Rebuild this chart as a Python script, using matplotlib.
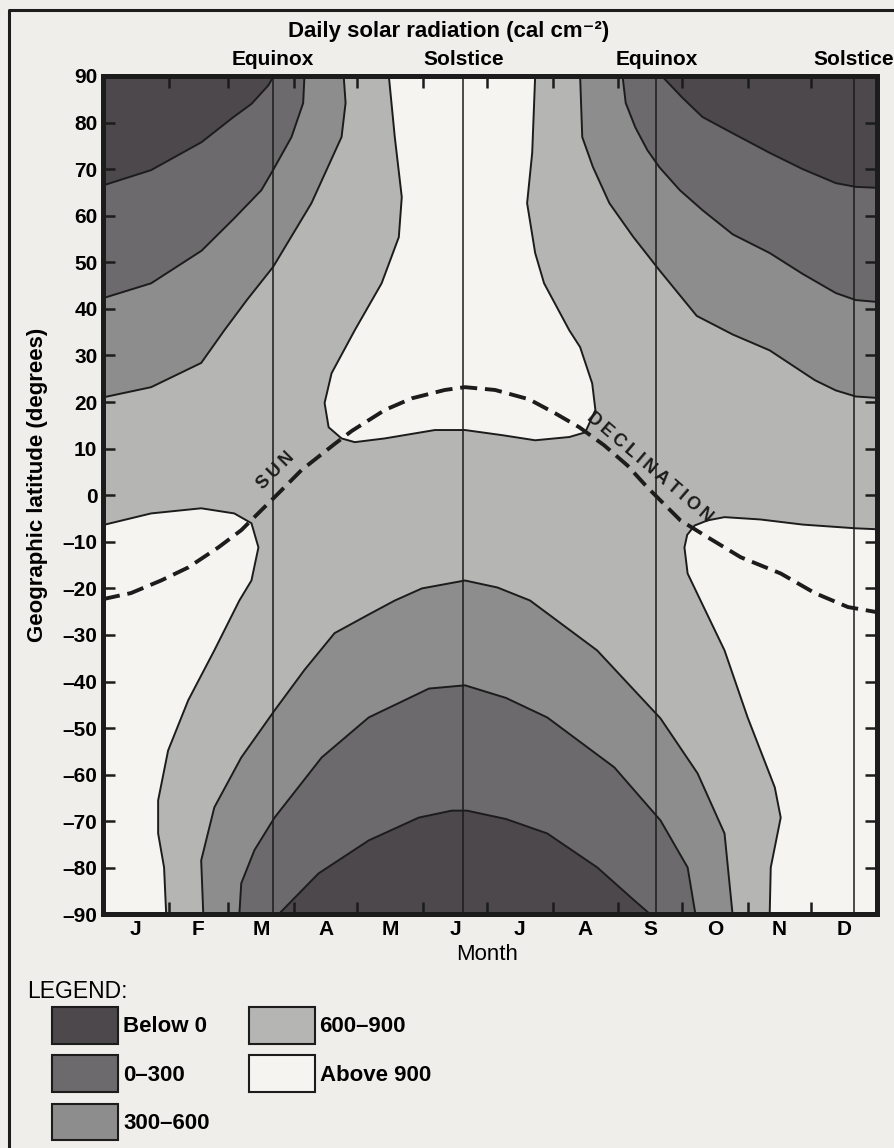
import matplotlib
matplotlib.use("Agg")
import matplotlib.pyplot as plt
import matplotlib.transforms as mtransforms
from matplotlib.patches import Patch
from matplotlib.lines import Line2D

plt.rcParams['font.family'] = ['Liberation Sans', 'DejaVu Sans']

# Band colours (scanned greys)
page_col = '#efeeea'
col_below0 = '#4c484c'
col_0_300 = '#6d6a6d'
col_300_600 = '#8e8d8e'
col_600_900 = '#b5b5b3'
col_above900 = '#f5f4f0'
ink = '#1c1c1c'

# Isolines: day of year vs latitude (degrees)
# 0 cal line, northern winter (left / right edges)
nw_below0_day = [0, 22.7, 46.5, 61, 70, 78, 80.5]
nw_below0_lat = [66.5, 69.8, 75.8, 81, 84, 88, 90]
ne_below0_day = [263.5, 273.3, 282.7, 297, 314.4, 330, 345.6, 355, 365]
ne_below0_lat = [90, 85.3, 81.2, 77.7, 73.5, 70, 67, 66.2, 66]

# 300 cal line
nw_300_day = [0, 22.7, 46.5, 62, 74.7, 80.2, 88.9, 94.4, 95]
nw_300_lat = [42.3, 45.5, 52.5, 59.5, 65.5, 69.8, 76.9, 84.2, 90]
ne_300_day = [245, 246.5, 251, 256.7, 262.4, 272, 282.7, 297, 314.4, 330, 345.6, 355, 365]
ne_300_lat = [90, 84.2, 79, 74.1, 70.4, 65.5, 61.2, 56, 52, 47.5, 43.4, 41.9, 41.5]

# 600 cal line
nw_600_day = [0, 22.7, 46.3, 57.2, 68, 80.2, 98.3, 112.5, 114.4, 113.5]
nw_600_lat = [21, 23.2, 28.4, 35.4, 42, 49, 62.7, 76.9, 84.2, 90]
ne_600_day = [225, 226, 231, 238.8, 250, 262.4, 280, 297, 314.4, 335.7, 345.6, 355, 365]
ne_600_lat = [90, 76.9, 70.5, 62.7, 55.5, 48.3, 38.5, 34.5, 31.1, 24.7, 22.5, 21.2, 20.9]

# 900 cal line, northern summer lobe (closed along the top)
n_900_day = [134.8, 137.6, 140.9, 139.5, 131.4, 118.7, 107.8, 104.5, 106.4, 112.5,
             118.7, 132.9, 156.5, 170.7, 188.2, 203.8, 219.9, 227.4, 232.2, 230.7,
             225, 219.9, 208, 203.8, 200, 202.4, 203.8]
n_900_lat = [90, 76.9, 64, 55.4, 45.5, 35.4, 26.2, 19.8, 14.6, 12.2,
             11.4, 12.2, 14, 14, 12.9, 11.8, 12.5, 13.5, 18.3, 24,
             31.8, 35.4, 45.5, 52, 62.7, 73.5, 90]

# 900 cal line, southern summer lobes
sw_900_day = [0, 22.7, 46.3, 61.9, 70, 73.3, 70, 64.3, 52.5, 40.2, 30.7, 26, 26, 28.8, 29.8]
sw_900_lat = [-6.4, -3.9, -2.8, -3.9, -6, -11.2, -18.3, -22.6, -33.3, -44, -54.8, -65.5, -72.6, -79.9, -90]
se_900_day = [365, 355, 330, 310, 293.1, 285.1, 279, 275.5, 274.2, 275.7, 281.8, 293.1, 304, 316.8, 319.6, 314.9, 314.4]
se_900_lat = [-7.3, -7.1, -6.3, -5.2, -4.7, -5.4, -6.5, -8.5, -11.2, -16.8, -22.6, -33.3, -47.7, -62.7, -69.2, -79.9, -90]

# southern winter lines
s_600_day = [47.3, 46.3, 52.5, 65.2, 80.9, 95, 109.2, 125.3, 137.6, 150.4, 170.7, 186, 201.4, 233, 262.9, 280.4, 293.1, 296.9]
s_600_lat = [-90, -78.4, -67, -56.3, -46.2, -37.5, -29.6, -25.6, -22.6, -20, -18.3, -19.8, -22.6, -33.3, -47.9, -59.7, -72.6, -90]
s_300_day = [64.3, 65.2, 71.4, 80.9, 103.1, 125.3, 153.7, 170.7, 190, 209.5, 241.1, 262.9, 275.7, 279.4]
s_300_lat = [-90, -83.3, -76.2, -69.2, -56.3, -47.7, -41.5, -40.8, -43.5, -47.7, -58.4, -69.8, -79.9, -90]
s_below0_day = [82.7, 101.6, 125.3, 148.9, 164.5, 171.6, 190, 209.5, 233.1, 250.6, 258.2]
s_below0_lat = [-90, -81.2, -74.1, -69.2, -67.7, -67.7, -69.5, -72.6, -79.9, -87, -90]

# Sun declination (dashed curve)
decl_day = [0, 13.2, 27.4, 40.2, 54.4, 65.2, 74.7, 82.7, 93.6, 109.2, 117.3, 132.9, 145.6, 161.2,
            170.7, 184.9, 200.9, 213.2, 224.6, 236.4, 247.3, 256.7, 272.3, 285.1, 300.7, 319.6,
            335.7, 351.3, 365]
decl_lat = [-22.3, -21.0, -18.3, -15.5, -11.2, -7.5, -3.2, 0.4, 5.4, 11.0, 13.8, 18.3, 20.8, 22.6,
            23.2, 22.6, 20.6, 17.6, 14.6, 10.7, 6.4, 1.7, -5.4, -9.0, -13.3, -16.8,
            -21.0, -24.0, -25.1]

# Equinox / solstice markers
event_day = [80, 170, 261, 354]
event_name = ['Equinox', 'Solstice', 'Equinox', 'Solstice']

month_start = [0, 31, 59, 90, 120, 151, 181, 212, 243, 273, 304, 334, 365]
month_letter = ['J', 'F', 'M', 'A', 'M', 'J', 'J', 'A', 'S', 'O', 'N', 'D']
lat_ticks = list(range(-90, 91, 10))

legend_labels = ['Below 0', '0\u2013300', '300\u2013600', '600\u2013900', 'Above 900']
legend_colors = [col_below0, col_0_300, col_300_600, col_600_900, col_above900]

fig = plt.figure(figsize=(8.95, 11.48), dpi=100)
fig.patch.set_facecolor(page_col)
ax = fig.add_axes([0.11508, 0.2034, 0.8648, 0.7304])
ax.set_xlim(0, 365)
ax.set_ylim(-90, 90)
ax.set_facecolor(col_600_900)

# filled bands, light to dark, then the bright lobes
ax.fill(nw_600_day + [0], nw_600_lat + [90], color=col_300_600, lw=0, zorder=1)
ax.fill(ne_600_day + [365], ne_600_lat + [90], color=col_300_600, lw=0, zorder=1)
ax.fill(s_600_day, s_600_lat, color=col_300_600, lw=0, zorder=1)
ax.fill(nw_300_day + [0], nw_300_lat + [90], color=col_0_300, lw=0, zorder=1)
ax.fill(ne_300_day + [365], ne_300_lat + [90], color=col_0_300, lw=0, zorder=1)
ax.fill(s_300_day, s_300_lat, color=col_0_300, lw=0, zorder=1)
ax.fill(nw_below0_day + [0], nw_below0_lat + [90], color=col_below0, lw=0, zorder=1)
ax.fill(ne_below0_day + [365], ne_below0_lat + [90], color=col_below0, lw=0, zorder=1)
ax.fill(s_below0_day, s_below0_lat, color=col_below0, lw=0, zorder=1)
ax.fill(n_900_day, n_900_lat, color=col_above900, lw=0, zorder=1)
ax.fill(sw_900_day + [0], sw_900_lat + [-90], color=col_above900, lw=0, zorder=1)
ax.fill(se_900_day + [365], se_900_lat + [-90], color=col_above900, lw=0, zorder=1)

# contour lines
for dd, ll in [(nw_below0_day, nw_below0_lat), (ne_below0_day, ne_below0_lat),
               (nw_300_day, nw_300_lat), (ne_300_day, ne_300_lat),
               (nw_600_day, nw_600_lat), (ne_600_day, ne_600_lat),
               (n_900_day, n_900_lat), (sw_900_day, sw_900_lat), (se_900_day, se_900_lat),
               (s_600_day, s_600_lat), (s_300_day, s_300_lat), (s_below0_day, s_below0_lat)]:
    ax.plot(dd, ll, color=ink, lw=1.4, zorder=2, solid_joinstyle='round')

for d in event_day:
    ax.axvline(d, color=ink, lw=1.1, zorder=2)

ax.plot(decl_day, decl_lat, color=ink, lw=2.8, dashes=(4.4, 2.0), zorder=3)
thin = '\u2009'
ax.text(81.5, 5.2, thin.join('SUN'), rotation=45, rotation_mode='anchor', ha='center',
        va='center', fontsize=13, fontweight='bold', color=ink, zorder=4)
ax.text(257.8, 6.0, thin.join('DECLINATION'), rotation=-40.6, rotation_mode='anchor',
        ha='center', va='center', fontsize=13, fontweight='bold', color=ink, zorder=4)

# event labels above the frame
trans = mtransforms.blended_transform_factory(ax.transData, ax.transAxes)
for d, name in zip(event_day, event_name):
    ax.text(d, 1.0131, name, transform=trans, ha='center', va='baseline',
            fontsize=15, fontweight='bold', clip_on=False)

# axes styling
for sp in ax.spines.values():
    sp.set_linewidth(3.6)
    sp.set_color(ink)

ax.set_xticks(month_start[1:-1])
ax.set_xticklabels([])
mid_month = [(month_start[i] + month_start[i + 1]) / 2 for i in range(12)]
ax.set_xticks(mid_month, minor=True)
ax.set_xticklabels(month_letter, minor=True, fontsize=15, fontweight='bold')
ax.tick_params(axis='x', which='major', direction='in', length=8.5, width=1.8,
               top=True, bottom=True, color=ink)
ax.tick_params(axis='x', which='minor', length=0, pad=4)

ax.set_yticks(lat_ticks)
ax.set_yticklabels([str(v) if v >= 0 else '\u2013' + str(-v) for v in lat_ticks],
                   fontsize=15, fontweight='bold')
ax.tick_params(axis='y', direction='in', length=8.5, width=1.8, left=True, right=True,
               pad=4, color=ink)

fig.text(448.5 / 895, 1 - 36.5 / 1148, 'Daily solar radiation (cal cm\u207b\u00b2)',
         ha='center', va='baseline', fontsize=16, fontweight='bold')
fig.text(38 / 895, 1 - 485 / 1148, 'Geographic latitude (degrees)', rotation=90,
         ha='center', va='center', fontsize=16, fontweight='bold')
fig.text(487 / 895, 1 - 955 / 1148, 'Month', ha='center', va='center', fontsize=16)

# legend
fig.text(27 / 895, 1 - 998 / 1148, 'LEGEND:', ha='left', va='baseline', fontsize=16.5)
handles = [Patch(facecolor=c, edgecolor=ink, linewidth=1.5) for c in legend_colors]
fig.legend(handles, legend_labels, loc='upper left', bbox_to_anchor=(52 / 895, 1 - 1007 / 1148),
           ncol=2, frameon=False, prop={'size': 16, 'weight': 'bold'}, handlelength=2.97,
           handleheight=2.17, handletextpad=0.23, labelspacing=0.52, columnspacing=1.75,
           borderpad=0, borderaxespad=0)

# outer page frame
fig.add_artist(Line2D([9 / 895, 9 / 895, 1.0], [0, 1 - 10 / 1148, 1 - 10 / 1148],
                      transform=fig.transFigure, color=ink, lw=2.2))

fig.savefig('out.png', dpi=100, facecolor=fig.get_facecolor())
